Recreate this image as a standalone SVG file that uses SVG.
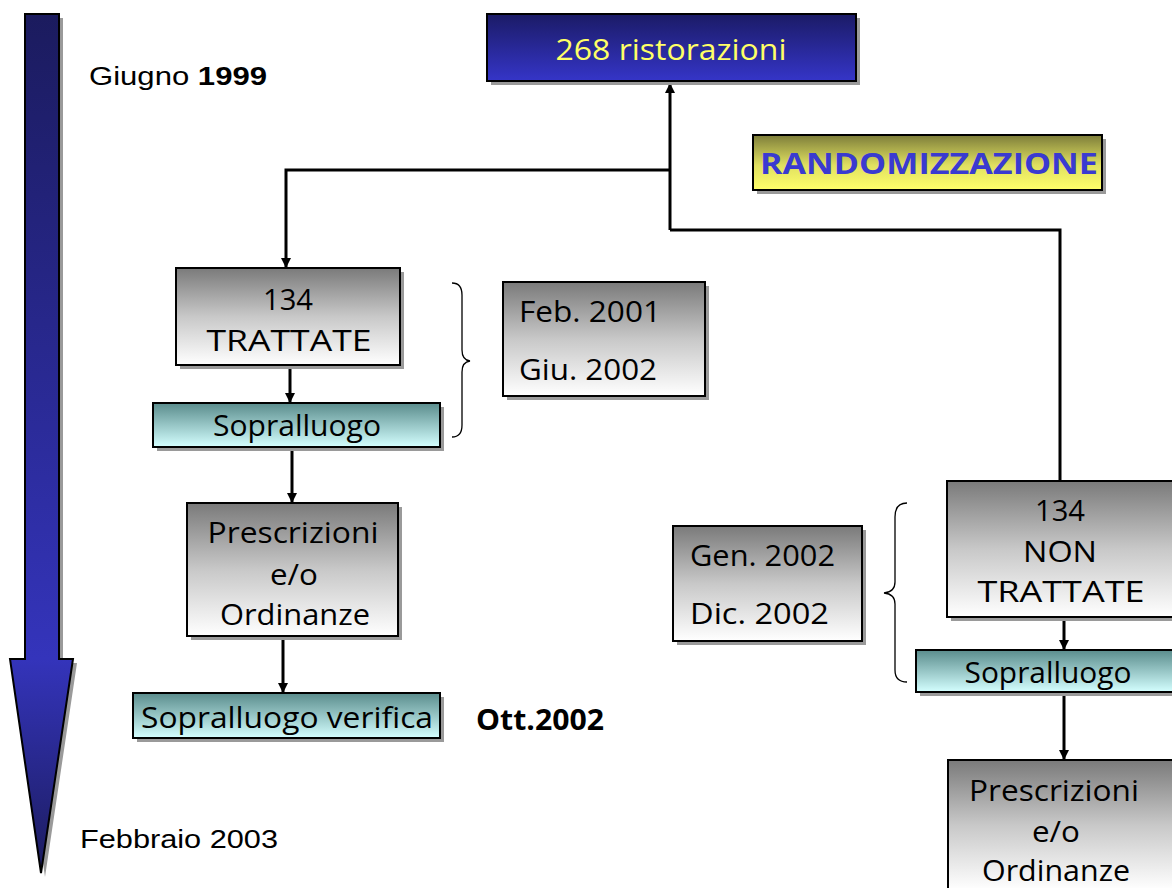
<svg xmlns="http://www.w3.org/2000/svg" width="1172" height="888" viewBox="0 0 1172 888">
  <style>
    .box { stroke: #000; stroke-width: 2; }
    .shadow { fill: #9a9a9a; }
    .t { font-family: "Comic Sans MS", "Open Sans", "DejaVu Sans", sans-serif; fill: #000; text-anchor: middle; font-size: 29px; }
    .tl { font-family: "Comic Sans MS", "Open Sans", "DejaVu Sans", sans-serif; fill: #000; font-size: 29px; }
    .plain { font-family: "Liberation Sans", Arial, sans-serif; fill: #000; font-size: 26px; }
    .conn { fill: none; stroke: #000; stroke-width: 3; }
    .brace { fill: none; stroke: #000; stroke-width: 1.3; }
  </style>
  <defs>
    <linearGradient id="gBlue" x1="0" y1="0" x2="0" y2="1">
      <stop offset="0" stop-color="#1b1b66"/>
      <stop offset="1" stop-color="#3535c8"/>
    </linearGradient>
    <linearGradient id="gYellow" x1="0" y1="0" x2="0" y2="1">
      <stop offset="0" stop-color="#7d7d3a"/>
      <stop offset="0.55" stop-color="#e0e060"/>
      <stop offset="1" stop-color="#ffff6a"/>
    </linearGradient>
    <linearGradient id="gGray" x1="0" y1="0" x2="0" y2="1">
      <stop offset="0" stop-color="#7a7a7a"/>
      <stop offset="0.5" stop-color="#c8c8c8"/>
      <stop offset="1" stop-color="#ffffff"/>
    </linearGradient>
    <linearGradient id="gTeal" x1="0" y1="0" x2="0" y2="1">
      <stop offset="0" stop-color="#5a8c8c"/>
      <stop offset="1" stop-color="#d4ffff"/>
    </linearGradient>
    <linearGradient id="gArrow" gradientUnits="userSpaceOnUse" x1="0" y1="14" x2="0" y2="873">
      <stop offset="0" stop-color="#1b1b5e"/>
      <stop offset="0.75" stop-color="#3434bb"/>
      <stop offset="1" stop-color="#1c1c5e"/>
    </linearGradient>
    <marker id="ah" viewBox="0 0 10 10" refX="10" refY="5" markerWidth="10" markerHeight="10" markerUnits="userSpaceOnUse" orient="auto">
      <path d="M0,0 L10,5 L0,10 z" fill="#000"/>
    </marker>
  </defs>

  <!-- timeline arrow -->
  <g id="timeline">
    <path d="M29,18 H63 V663 H77 L45,877 L14,663 H29 Z" fill="#9a9a9a"/>
    <path d="M25,14 H59 V659 H73 L41,873 L10,659 H25 Z" fill="url(#gArrow)" stroke="#000" stroke-width="2"/>
    <text class="plain" x="89" y="85" textLength="178" lengthAdjust="spacingAndGlyphs">Giugno <tspan font-weight="bold">1999</tspan></text>
    <text class="plain" x="80" y="848" textLength="198" lengthAdjust="spacingAndGlyphs">Febbraio 2003</text>
  </g>

  <!-- connectors -->
  <g id="connectors">
    <path class="conn" d="M670,230 V83" marker-end="url(#ah)"/>
    <path class="conn" d="M670,170 H286 V268" marker-end="url(#ah)"/>
    <path class="conn" d="M670,230 H1060 V481"/>
    <path class="conn" d="M290,365 V403" marker-end="url(#ah)"/>
    <path class="conn" d="M292,447 V503" marker-end="url(#ah)"/>
    <path class="conn" d="M283,636 V693" marker-end="url(#ah)"/>
    <path class="conn" d="M1064,617 V650" marker-end="url(#ah)"/>
    <path class="conn" d="M1064,692 V760" marker-end="url(#ah)"/>
  </g>

  <g id="ristorazioni">
    <rect class="shadow" x="491" y="18" width="369" height="67"/>
    <rect class="box" x="487" y="14" width="369" height="67" fill="url(#gBlue)"/>
    <text class="t" x="671" y="60" style="fill:#ffff66" textLength="231" lengthAdjust="spacingAndGlyphs">268 ristorazioni</text>
  </g>

  <g id="randomizzazione">
    <rect class="shadow" x="757" y="139" width="349" height="55"/>
    <rect class="box" x="753" y="135" width="349" height="55" fill="url(#gYellow)"/>
    <text class="t" x="929" y="174" font-weight="bold" style="fill:#3a3ad0" textLength="338" lengthAdjust="spacingAndGlyphs">RANDOMIZZAZIONE</text>
  </g>

  <g id="trattate">
    <rect class="shadow" x="180" y="272" width="224" height="97"/>
    <rect class="box" x="176" y="268" width="224" height="97" fill="url(#gGray)"/>
    <text class="t" x="288" y="310" textLength="50" lengthAdjust="spacingAndGlyphs">134</text>
    <text class="t" x="289" y="351" textLength="165" lengthAdjust="spacingAndGlyphs">TRATTATE</text>
  </g>

  <g id="sopralluogo-1">
    <rect class="shadow" x="157" y="407" width="287" height="44"/>
    <rect class="box" x="153" y="403" width="287" height="44" fill="url(#gTeal)"/>
    <text class="t" x="297" y="436" textLength="168" lengthAdjust="spacingAndGlyphs">Sopralluogo</text>
  </g>

  <g id="brace-1">
    <path class="brace" d="M452,283 Q462,283 462,295 V350 Q462,360 470,361 Q462,362 462,372 V425 Q462,437 452,437"/>
  </g>

  <g id="periodo-1">
    <rect class="shadow" x="507" y="286" width="202" height="114"/>
    <rect class="box" x="503" y="282" width="202" height="114" fill="url(#gGray)"/>
    <text class="tl" x="519" y="322" textLength="142" lengthAdjust="spacingAndGlyphs">Feb. 2001</text>
    <text class="tl" x="519" y="380" textLength="138" lengthAdjust="spacingAndGlyphs">Giu. 2002</text>
  </g>

  <g id="prescrizioni-1">
    <rect class="shadow" x="191" y="507" width="211" height="133"/>
    <rect class="box" x="187" y="503" width="211" height="133" fill="url(#gGray)"/>
    <text class="t" x="293" y="543" textLength="171" lengthAdjust="spacingAndGlyphs">Prescrizioni</text>
    <text class="t" x="294" y="585" textLength="48" lengthAdjust="spacingAndGlyphs">e/o</text>
    <text class="t" x="295" y="625" textLength="150" lengthAdjust="spacingAndGlyphs">Ordinanze</text>
  </g>

  <g id="verifica">
    <rect class="shadow" x="137" y="697" width="307" height="45"/>
    <rect class="box" x="133" y="693" width="307" height="45" fill="url(#gTeal)"/>
    <text class="t" x="287" y="728" textLength="292" lengthAdjust="spacingAndGlyphs">Sopralluogo verifica</text>
    <text class="tl" x="476" y="730" font-size="25" font-weight="bold" textLength="128" lengthAdjust="spacingAndGlyphs">Ott.2002</text>
  </g>

  <g id="non-trattate">
    <rect class="shadow" x="951" y="485" width="230" height="136"/>
    <rect class="box" x="947" y="481" width="230" height="136" fill="url(#gGray)"/>
    <text class="t" x="1060" y="521" textLength="50" lengthAdjust="spacingAndGlyphs">134</text>
    <text class="t" x="1060" y="562" textLength="74" lengthAdjust="spacingAndGlyphs">NON</text>
    <text class="t" x="1061" y="602" textLength="167" lengthAdjust="spacingAndGlyphs">TRATTATE</text>
  </g>

  <g id="sopralluogo-2">
    <rect class="shadow" x="920" y="654" width="260" height="42"/>
    <rect class="box" x="916" y="650" width="264" height="42" fill="url(#gTeal)"/>
    <text class="t" x="1048" y="683" textLength="167" lengthAdjust="spacingAndGlyphs">Sopralluogo</text>
  </g>

  <g id="brace-2">
    <path class="brace" d="M907,503 Q895,503 895,517 V582 Q895,592 884,593 Q895,594 895,604 V670 Q895,682 907,682"/>
  </g>

  <g id="periodo-2">
    <rect class="shadow" x="677" y="530" width="189" height="115"/>
    <rect class="box" x="673" y="526" width="189" height="115" fill="url(#gGray)"/>
    <text class="tl" x="690" y="566" textLength="145" lengthAdjust="spacingAndGlyphs">Gen. 2002</text>
    <text class="tl" x="690" y="624" textLength="139" lengthAdjust="spacingAndGlyphs">Dic. 2002</text>
  </g>

  <g id="prescrizioni-2">
    <rect class="shadow" x="952" y="764" width="230" height="130"/>
    <rect class="box" x="948" y="760" width="230" height="130" fill="url(#gGray)"/>
    <text class="t" x="1054" y="801" textLength="170" lengthAdjust="spacingAndGlyphs">Prescrizioni</text>
    <text class="t" x="1056" y="842" textLength="48" lengthAdjust="spacingAndGlyphs">e/o</text>
    <text class="t" x="1056" y="881" textLength="148" lengthAdjust="spacingAndGlyphs">Ordinanze</text>
  </g>
</svg>
